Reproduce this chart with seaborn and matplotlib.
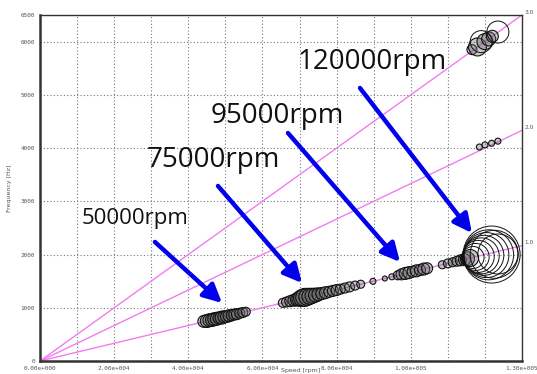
import numpy as np
import pandas as pd
import matplotlib
matplotlib.use("Agg")
import matplotlib.pyplot as plt
import seaborn as sns

# ---------------- data ----------------
x_ticks = [0, 20000, 40000, 60000, 80000, 100000, 130000]
x_tick_labels = ["0.00e+000", "2.00e+004", "4.00e+004", "6.00e+004",
                 "8.00e+004", "1.00e+005", "1.30e+005"]
y_ticks = [0, 1000, 2000, 3000, 4000, 5000, 6000, 6500]
y_tick_labels = ["0", "1000", "2000", "3000", "4000", "5000", "6000", "6500"]

orders = ["1.0", "2.0", "3.0"]
order_end_rpm = [130000, 130000, 130000]
order_end_hz = [2167, 4333, 6500]

# 1st-order bubbles
o1_rpm = [44200, 45000, 45700, 46400, 47000, 47700, 48300, 49000, 49600, 50300,
          51000, 51700, 52400, 53100, 53900, 54700, 55500,
          65500, 66500, 67500, 68500, 69300, 70000, 70700, 71400, 72100, 72800,
          73500, 74300, 75100, 76000, 77000, 78000, 79000, 80000, 81000, 82200,
          83500, 85000, 86500,
          89800, 93000, 94900, 96500, 97500, 98500, 99500, 100500, 101500,
          102500, 103500, 104400,
          108500, 110000, 111300, 112500, 113500, 114500, 115300, 116000,
          116800, 117500, 118200, 119000, 119700, 120400, 121000, 121800,
          122500, 123500]
o1_hz = [745, 752, 765, 772, 785, 793, 808, 815, 828, 836,
         850, 858, 873, 880, 897, 910, 925,
         1092, 1108, 1125, 1142, 1155, 1170, 1185, 1195, 1205, 1215,
         1225, 1238, 1252, 1267, 1283, 1300, 1317, 1333, 1350, 1370,
         1392, 1417, 1442,
         1497, 1550, 1582, 1610, 1628, 1645, 1660, 1678, 1693,
         1710, 1727, 1742,
         1808, 1833, 1855, 1875, 1892, 1905, 1920, 1935,
         1945, 1955, 1965, 1975, 1985, 1990, 1995, 2000,
         2005, 2010]
o1_diam = [12, 13, 13, 13, 13, 13, 12, 13, 12, 12,
           12, 11, 11, 11, 10, 10, 9,
           9, 10, 11, 12, 13, 15, 17, 18, 17, 16,
           15, 14, 13, 12, 12, 11, 11, 11, 10, 10,
           10, 9, 8,
           6, 5, 6, 9, 11, 12, 12, 11, 12,
           11, 12, 11,
           8, 9, 9, 10, 11, 12, 14, 17,
           22, 27, 32, 36, 40, 45, 50, 57,
           48, 40]

# 2nd-order bubbles
o2_rpm = [118500, 120000, 121800, 123500]
o2_hz = [4020, 4060, 4090, 4130]
o2_diam = [6, 6, 6, 6]

# 3rd-order bubbles
o3_rpm = [116500, 118000, 119000, 120000, 121000, 122000, 123500]
o3_hz = [5850, 5900, 6000, 6000, 6050, 6100, 6180]
o3_diam = [10, 18, 22, 16, 14, 12, 22]

labels = ["50000rpm", "75000rpm", "95000rpm", "120000rpm"]
label_size = [16, 20, 20, 20]
label_rpm = [25620, 46660, 63920, 89540]
label_hz = [2686, 3776, 4603, 5617]
arrow_start_rpm = [31000, 48000, 66880, 86300]
arrow_start_hz = [2236, 3288, 4283, 5129]
arrow_end_rpm = [49100, 70660, 97090, 116500]
arrow_end_hz = [1090, 1465, 1860, 2405]

# ---------------- figure ----------------
sns.set_style("white")
plt.rcParams["font.family"] = ["DejaVu Sans"]

fig = plt.figure(figsize=(5.37, 3.74), dpi=100)
ax = fig.add_axes([40 / 537, 13 / 374, 482 / 537, 346 / 374])

# order lines
for r, h in zip(order_end_rpm, order_end_hz):
    line_df = pd.DataFrame({"rpm": [0, r], "hz": [0, h]})
    sns.lineplot(data=line_df, x="rpm", y="hz", ax=ax, color="#f07cf0",
                 linewidth=1.0, zorder=2)

bub = pd.DataFrame({
    "rpm": o1_rpm + o2_rpm + o3_rpm,
    "hz": o1_hz + o2_hz + o3_hz,
    "d": o1_diam + o2_diam + o3_diam,
})
bub["s"] = (bub["d"] * 0.72) ** 2
small = bub[bub["d"] < 19]
big = bub[bub["d"] >= 19]
smin, smax = bub["s"].min(), bub["s"].max()

sns.scatterplot(data=small, x="rpm", y="hz", size="s", sizes=(smin, smax),
                size_norm=(smin, smax), legend=False, ax=ax,
                color=(0.4, 0.4, 0.4, 0.35), edgecolor="#111111",
                linewidth=0.8, zorder=3)
sns.scatterplot(data=big, x="rpm", y="hz", size="s", sizes=(smin, smax),
                size_norm=(smin, smax), legend=False, ax=ax,
                color=(1, 1, 1, 0.0), edgecolor="#111111",
                linewidth=0.7, zorder=3)

ax.set_xlim(0, 130000)
ax.set_ylim(0, 6500)

# grid
grid_x = np.arange(0, 130001, 10000)
ax.set_xticks(grid_x)
ax.set_xticklabels([x_tick_labels[x_ticks.index(v)] if v in x_ticks else ""
                    for v in grid_x])
ax.set_yticks(y_ticks)
ax.set_yticklabels(y_tick_labels)
ax.grid(True, color="#777777", linestyle=(0, (1, 2)), linewidth=0.8)
ax.set_axisbelow(True)

ax.tick_params(axis="both", labelsize=4.3, labelcolor="#555555", length=2,
               width=0.6, pad=1.5, direction="out", color="#555555")
for lab in ax.get_xticklabels() + ax.get_yticklabels():
    lab.set_family("DejaVu Sans Mono")

for side, sp in ax.spines.items():
    sp.set_color("#333333")
    sp.set_linewidth(1.0)
ax.spines["left"].set_linewidth(1.8)
ax.spines["bottom"].set_linewidth(1.8)

ax.set_xlabel("")
ax.set_ylabel("Frequency [Hz]", fontsize=4.5, color="#555555", labelpad=6)
fig.text(0.56, 0.004, "Speed [rpm]", fontsize=4.5, color="#555555",
         ha="center", va="bottom")

# order labels at right edge
for o, r, h in zip(orders, order_end_rpm, order_end_hz):
    ax.annotate(o, xy=(r, h), xytext=(2, 2), textcoords="offset points",
                fontsize=4.2, color="#555555", va="center", ha="left",
                annotation_clip=False)

# annotations with arrows
for t, fs, tx, ty, sx, sy, ex, ey in zip(labels, label_size, label_rpm, label_hz,
                                         arrow_start_rpm, arrow_start_hz,
                                         arrow_end_rpm, arrow_end_hz):
    ax.text(tx, ty, t, fontsize=fs, family="Open Sans", color="#111111",
            ha="center", va="center", zorder=6)
    ax.annotate("", xy=(ex, ey), xytext=(sx, sy),
                arrowprops=dict(arrowstyle="-|>,head_length=1.1,head_width=0.55",
                                color="#0000ee", lw=3.2, shrinkA=0, shrinkB=0),
                zorder=7)

fig.savefig("out.png", dpi=100)
